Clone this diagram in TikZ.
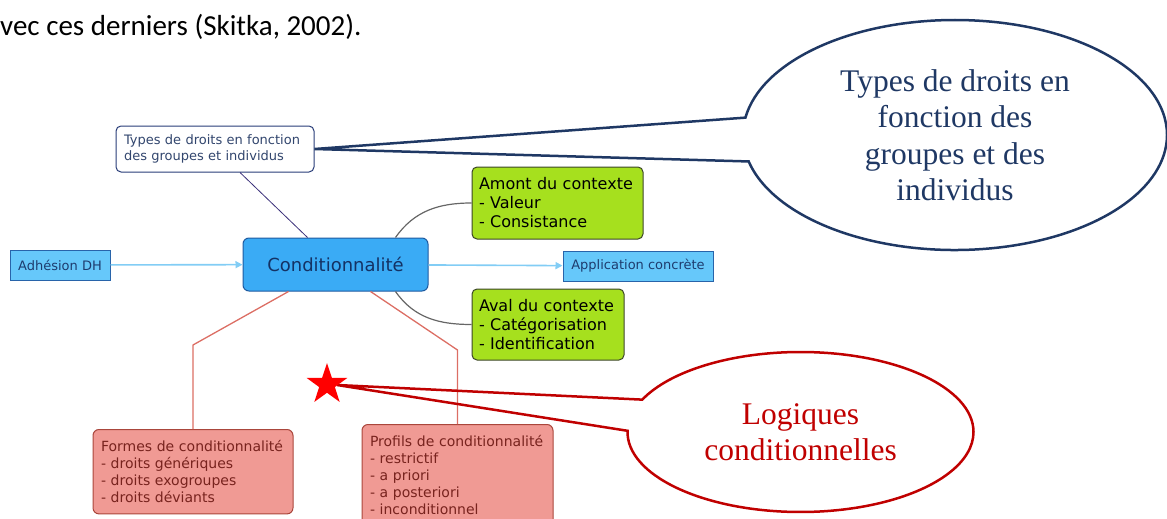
\documentclass[tikz,border=0pt]{standalone}
\usepackage{fontspec}
\usepackage{xcolor}
\usepackage{tikz}
\usetikzlibrary{calc, positioning, arrows.meta, shapes.geometric, shapes.callouts}
\newfontfamily\mapfont{DejaVu Sans}
\newfontfamily\bubblefont{Liberation Serif}
\newfontfamily\bodyfont{Carlito}
\definecolor{condFill}{RGB}{58,171,245}
\definecolor{condDraw}{RGB}{30,90,160}
\definecolor{condText}{RGB}{20,50,100}
\definecolor{leafFill}{RGB}{102,200,250}
\definecolor{leafDraw}{RGB}{40,100,170}
\definecolor{leafText}{RGB}{30,60,110}
\definecolor{linkBlue}{RGB}{130,205,245}
\definecolor{noteDraw}{RGB}{40,60,120}
\definecolor{noteText}{RGB}{50,70,110}
\definecolor{ctxFill}{RGB}{166,224,30}
\definecolor{ctxDraw}{RGB}{60,70,40}
\definecolor{formFill}{RGB}{240,154,148}
\definecolor{formDraw}{RGB}{170,70,60}
\definecolor{formText}{RGB}{120,35,30}
\definecolor{branchRed}{RGB}{220,110,100}
\definecolor{calloutRed}{RGB}{192,0,0}
\definecolor{calloutBlue}{RGB}{31,56,100}
\tikzset{
    centre/.style={rectangle, rounded corners=6pt, draw=condDraw, fill=condFill, line width=1pt, minimum width=185pt, minimum height=53pt, text=condText, font=\mapfont\fontsize{18}{21}\selectfont},
    leaf/.style={rectangle, draw=leafDraw, fill=leafFill, line width=1pt, minimum height=30pt, text=leafText, font=\mapfont\fontsize{13}{16}\selectfont},
    note/.style={rectangle, rounded corners=5pt, draw=noteDraw, fill=white, line width=1pt, align=left, text width=182pt, minimum height=46pt, inner xsep=8pt, text=noteText, font=\mapfont\fontsize{13}{16.5}\selectfont},
    context/.style={rectangle, rounded corners=5pt, draw=ctxDraw, fill=ctxFill, line width=1pt, align=left, inner xsep=7pt, text=black, font=\mapfont\fontsize{16}{19}\selectfont},
    forme/.style={rectangle, rounded corners=6pt, draw=formDraw, fill=formFill, line width=1pt, align=left, anchor=north, inner xsep=8pt, inner ysep=11pt, text=formText, font=\mapfont\fontsize{14}{17}\selectfont},
    link/.style={-{Triangle[length=7pt, width=7pt]}, draw=linkBlue, line width=1.6pt},
    ctxlink/.style={draw=black!60, line width=1.2pt},
    branch/.style={draw=branchRed, line width=1.3pt},
    bubble/.style={ellipse callout, draw, line width=2.5pt, fill=none, align=center, inner sep=0pt, font=\bubblefont\fontsize{31.5}{36.5}\selectfont}
}
\begin{document}
\begin{tikzpicture}[x=1pt, y=-1pt]
    \useasboundingbox (0,0) rectangle (1167,519);

    % Text above
    \node[anchor=base west, inner sep=0pt, font=\bodyfont\fontsize{29}{34}\selectfont] (body) at (0,36) {vec ces derniers (Skitka, 2002).};

    % Map
    \node[centre] (cond) at (335.5,264.5) {Conditionnalité};
    \node[note] (types) at (215,149) {Types de droits en fonction\\des groupes et individus};
    \node[leaf, minimum width=100pt] (adh) at (60,265) {Adhésion DH};
    \node[leaf, minimum width=150pt] (app) at (638,266) {Application concrète};
    \node[context, text width=157pt, minimum height=72pt] (amont) at (557.5,203) {Amont du contexte\\- Valeur\\- Consistance};
    \node[context, text width=138pt, minimum height=71pt] (aval) at (548,324.5) {Aval du contexte\\- Catégorisation\\- Identification};
    \node[forme, text width=184pt] (formes) at (193,429) {Formes de conditionnalité\\- droits génériques\\- droits exogroupes\\- droits déviants};
    \node[forme, text width=175pt] (profils) at (457.5,424) {Profils de conditionnalité\\- restrictif\\- a priori\\- a posteriori\\- inconditionnel};

    \draw[link] (adh) -- (cond);
    \draw[link] (cond) -- (app);
    \draw[draw=noteDraw!80!violet, line width=0.8pt] ($(types.south)+(25,0)$) -- ($(cond.north)+(-28,0)$);
    \draw[ctxlink] ($(cond.north)+(60,0)$) to[out=55, in=180] (amont.west);
    \draw[ctxlink] ($(cond.south)+(60,0)$) to[out=-55, in=180] (aval.west);
    \draw[branch] ($(cond.south)+(-47,0)$) -- ([yshift=84pt]formes.north) -- (formes.north);
    \draw[branch] ($(cond.south)+(35,0)$) -- ([yshift=74pt]profils.north) -- (profils.north);

    % Callouts
    \coordinate (tip) at (337,385);
    \node[bubble, draw=calloutBlue, text=calloutBlue, minimum width=424pt, minimum height=230pt, callout absolute pointer={(types.east)}, callout pointer arc=22] (typesBubble) at (955,135) {Types de droits en\\fonction des\\groupes et des\\individus};
    \node[bubble, draw=calloutRed, text=calloutRed, minimum width=346pt, minimum height=160pt, callout absolute pointer={(tip)}, callout pointer arc=23] (logBubble) at (800.5,432) {Logiques\\conditionnelles};
    \node[star, star points=5, star point ratio=2.6, fill=red, inner sep=0pt, minimum size=43pt] (mark) at (327,384.5) {};
\end{tikzpicture}
\end{document}
